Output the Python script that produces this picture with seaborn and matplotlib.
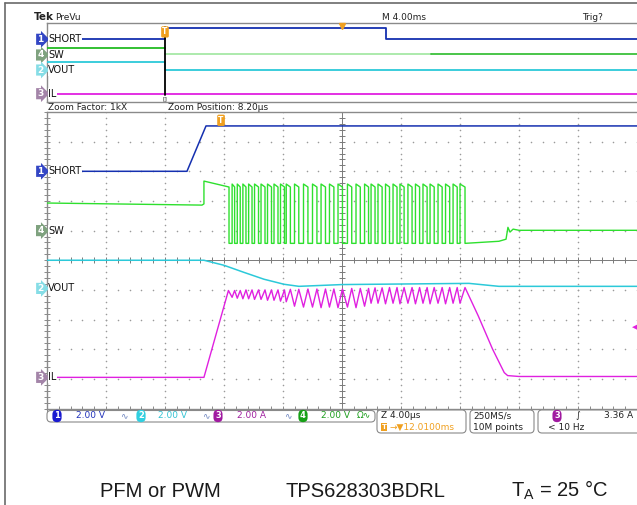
"""
Scope capture of the TPS628303BDRL output short: Tek PreVu overview on top,
1kX zoom window below, status bar and caption.

Usage:
    python plot.py
"""
import matplotlib
matplotlib.use("Agg")
import matplotlib.pyplot as plt
import numpy as np
import pandas as pd
import seaborn as sns
from matplotlib.patches import FancyBboxPatch

W, H = 637, 505

# ---- zoom window: time in us (4 us/div), values in divisions ----
SHORT_T = [-20.0, -10.51, -9.22, 20.0]
SHORT_V = [3.0, 3.0, 4.53, 4.53]

SW_PRE_T = [-20.0, -9.49, -9.36, -9.36, -7.66, -7.66]
SW_PRE_V = [1.93, 1.86, 1.90, 2.67, 2.47, 0.57]
SW_RISE = [-7.45, -7.10, -6.72, -6.33, -5.93, -5.49, -5.05, -4.61, -4.17, -3.78,
           -3.22, -2.61, -2.00, -1.42, -0.85, -0.27, 0.37, 0.95, 1.53, 1.97,
           2.44, 2.95, 3.46, 3.93, 4.47, 4.98, 5.49, 5.97, 6.51, 7.02, 7.53, 8.00]
SW_FALL = [-7.28, -6.90, -6.51, -6.10, -5.66, -5.22, -4.78, -4.34, -3.90, -3.50,
           -2.93, -2.31, -1.70, -1.12, -0.55, 0.03, 0.66, 1.24, 1.80, 2.24,
           2.72, 3.22, 3.73, 4.21, 4.75, 5.26, 5.77, 6.25, 6.79, 7.30, 7.81, 8.34]
SW_HIGH = 2.52
SW_LOW = 0.57
SW_POST_T = [10.64, 11.12, 11.25, 11.39, 11.60, 12.0, 20.0]
SW_POST_V = [0.64, 0.71, 1.11, 0.95, 1.05, 1.01, 1.01]

VOUT_T = [-20.0, -9.36, -8.0, -6.64, -5.29, -3.93, -2.92, 0.0, 8.61, 10.64, 20.0]
VOUT_V = [0.0, 0.0, -0.17, -0.41, -0.64, -0.81, -0.88, -0.82, -0.78, -0.88, -0.88]

IL_PRE_T = [-20.0, -9.36, -7.70]
IL_PRE_V = [-3.95, -3.95, -1.02]
IL_TROUGH = [-1.25, -1.28, -1.30, -1.30, -1.32, -1.32, -1.35, -1.35, -1.38, -1.40,
             -1.55, -1.58, -1.58, -1.60, -1.58, -1.60, -1.58, -1.60, -1.55, -1.45,
             -1.45, -1.47, -1.45, -1.47, -1.45, -1.47, -1.45, -1.47, -1.45, -1.47,
             -1.45, -1.45]
IL_PEAK = [-1.02, -1.02, -1.00, -1.00, -1.00, -1.00, -1.00, -1.00, -1.00, -0.98,
           -0.98, -0.97, -0.97, -0.97, -0.97, -0.97, -0.95, -0.95, -0.95, -0.93,
           -0.93, -0.92, -0.92, -0.92, -0.92, -0.92, -0.92, -0.92, -0.92, -0.92,
           -0.92, -0.92]
IL_POST_T = [9.24, 10.21, 11.0, 11.23, 12.0, 20.0]
IL_POST_V = [-1.88, -3.00, -3.79, -3.89, -3.92, -3.92]

# ---- PreVu overview: time in ms (4 ms/div), values in divisions ----
PV_SHORT_T = [-8.0, 0.0, 0.0, 15.0, 15.0, 32.0]
PV_SHORT_V = [2.96, 2.96, 4.44, 4.44, 2.99, 2.99]
PV_SW_PRE_T = [-8.0, 0.0]
PV_SW_PRE_V = [1.89, 1.89]
PV_SW_POST_T = [0.0, 18.0, 32.0]
PV_SW_POST_V = [1.08, 1.08, 1.08]
PV_VOUT_T = [-8.0, 0.0, 0.0, 32.0]
PV_VOUT_V = [0.03, 0.03, -0.96, -0.96]
PV_IL_T = [-8.0, 32.0]
PV_IL_V = [-3.98, -3.98]

# channel labels: (tag, name, ground level in div, trace colour, tag colour)
CHANNELS = [
    ("1", "SHORT", 3.0, "#1530b0", "#3346c4"),
    ("4", "SW", 1.0, "#2ee02e", "#7fa27f"),
    ("2", "VOUT", -0.95, "#2cc9d9", "#86dde6"),
    ("3", "IL", -3.95, "#e020e0", "#a384a8"),
]
PV_LEVELS = [2.96, 0.96, -0.96, -3.98]

CAPTIONS = ["PFM or PWM", "TPS628303BDRL", r"T$_\mathregular{A}$ = 25 °C"]

ORANGE = "#f0a020"
GRID = "#9a9a9a"
FONT = 6.5


def build_sw():
    t, v = list(SW_PRE_T), list(SW_PRE_V)
    for r, f in zip(SW_RISE, SW_FALL):
        t += [r, r, f, f]
        v += [SW_LOW, SW_HIGH + 0.05, SW_HIGH - 0.05, SW_LOW]
    t += SW_POST_T
    v += SW_POST_V
    return pd.DataFrame({"t": t, "v": v})


def build_il():
    t, v = list(IL_PRE_T), list(IL_PRE_V)
    for r, f, lo, hi in zip(SW_RISE, SW_FALL, IL_TROUGH, IL_PEAK):
        t += [r, f]
        v += [lo, hi]
    t += IL_POST_T
    v += IL_POST_V
    return pd.DataFrame({"t": t, "v": v})


def trace(ax, t, v, color, lw=1.1, z=3):
    df = pd.DataFrame({"t": t, "v": v}) if not isinstance(t, pd.DataFrame) else t
    sns.lineplot(data=df, x="t", y="v", ax=ax, color=color, lw=lw,
                 sort=False, estimator=None, legend=False, zorder=z)


def scope_frame(ax, xlim):
    ax.set_xlim(*xlim)
    ax.set_ylim(-5, 5)
    ax.set_xticks([])
    ax.set_yticks([])
    ax.set_xlabel("")
    ax.set_ylabel("")
    for side in ["left", "top", "bottom"]:
        ax.spines[side].set_color("#8a8a8a")
        ax.spines[side].set_linewidth(1.0)
    ax.spines["right"].set_visible(False)


def channel_labels(ax, levels):
    ytr = ax.get_yaxis_transform()
    for (tag, name, _, _, tagcol), lvl in zip(CHANNELS, levels):
        ax.text(-0.006, lvl, tag, transform=ytr, ha="right", va="center",
                color="white", fontsize=FONT, fontweight="bold", clip_on=False,
                bbox=dict(boxstyle="rarrow,pad=0.12", fc=tagcol, ec="none"))
        ax.text(0.002, lvl, name, transform=ytr, ha="left", va="center",
                color="#111111", fontsize=FONT + 0.5, zorder=6,
                bbox=dict(boxstyle="square,pad=0.05", fc="white", ec="none"))


sns.set_theme(style="white")
plt.rcParams["font.family"] = ["DejaVu Sans"]

fig = plt.figure(figsize=(W / 100, H / 100), dpi=100)
ax = fig.add_axes([47 / W, 1 - 408.5 / H, 590 / W, 296.5 / H])
pv = fig.add_axes([47 / W, 1 - 101.7 / H, 590 / W, 78.4 / H])

# ---- zoom window grid ----
scope_frame(ax, (-20, 20))
sub_y = np.arange(-5, 5.001, 0.2)
sub_x = np.arange(-20, 20.001, 0.8)
for gx in [-16, -12, -8, -4, 4, 8, 12, 16]:
    ax.scatter(np.full_like(sub_y, gx), sub_y, s=1.3, color=GRID, lw=0, zorder=1)
for gy in [-4, -3, -2, -1, 1, 2, 3, 4]:
    ax.scatter(sub_x, np.full_like(sub_x, gy), s=1.3, color=GRID, lw=0, zorder=1)
ax.axhline(0, color="#7a7a7a", lw=0.7, zorder=1)
ax.axvline(0, color="#7a7a7a", lw=0.7, zorder=1)
ax.plot(sub_x, np.zeros_like(sub_x), ls="none", marker="|", ms=4, mew=0.7,
        color="#7a7a7a", zorder=1)
ax.plot(np.zeros_like(sub_y), sub_y, ls="none", marker="_", ms=4, mew=0.7,
        color="#7a7a7a", zorder=1)
ax.plot(np.full_like(sub_y, -20), sub_y, ls="none", marker="_", ms=4, mew=0.7,
        color="#8a8a8a", zorder=1, clip_on=False)
ax.plot(sub_x, np.full_like(sub_x, -5), ls="none", marker="|", ms=4, mew=0.7,
        color="#8a8a8a", zorder=1, clip_on=False)

# ---- zoom window traces ----
trace(ax, VOUT_T, VOUT_V, CHANNELS[2][3])
trace(ax, build_il(), None, CHANNELS[3][3], lw=1.0)
trace(ax, build_sw(), None, CHANNELS[1][3], lw=1.0)
trace(ax, SHORT_T, SHORT_V, CHANNELS[0][3])
channel_labels(ax, [c[2] for c in CHANNELS])

ax.text(-8.2, 4.72, "T", ha="center", va="center", color="white", fontsize=5.5,
        fontweight="bold", zorder=6,
        bbox=dict(boxstyle="round,pad=0.15,rounding_size=0.2", fc=ORANGE, ec="none"))
ax.text(20, -2.27, "\u25c0", ha="right", va="center", color=CHANNELS[3][3],
        fontsize=5, zorder=6)

# ---- PreVu overview ----
scope_frame(pv, (-8, 32))
trace(pv, PV_IL_T, PV_IL_V, CHANNELS[3][3], lw=1.3)
trace(pv, PV_VOUT_T, PV_VOUT_V, CHANNELS[2][3], lw=1.3)
trace(pv, PV_SW_PRE_T, PV_SW_PRE_V, "#22bb22", lw=1.3)
trace(pv, PV_SW_POST_T[:2], PV_SW_POST_V[:2], "#a6e8a6", lw=1.3)
trace(pv, PV_SW_POST_T[1:], PV_SW_POST_V[1:], "#3cc03c", lw=1.3)
trace(pv, PV_SHORT_T, PV_SHORT_V, CHANNELS[0][3], lw=1.3)
pv.plot([0, 0], [4.5, -4.15], color="black", lw=1.3, zorder=5)
pv.text(0, 3.9, "T", ha="center", va="center", color="white", fontsize=5.5,
        fontweight="bold", zorder=6,
        bbox=dict(boxstyle="round,pad=0.15,rounding_size=0.2", fc=ORANGE, ec="none"))
pv.text(0, -4.6, "[]", ha="center", va="center", fontsize=4.5, color="#222222")
pv.plot([12], [4.7], marker="v", ms=4.5, color=ORANGE, ls="none", zorder=6,
        clip_on=False)
channel_labels(pv, PV_LEVELS)

# ---- overlay in pixel coordinates: frame, header, status bar, caption ----
ov = fig.add_axes([0, 0, 1, 1])
ov.set_xlim(0, W)
ov.set_ylim(H, 0)
ov.axis("off")
ov.plot([5, 5], [3, H], color="#6a6a6a", lw=1.2)
ov.plot([5, W], [3, 3], color="#6a6a6a", lw=1.2)

ov.text(34, 17, "Tek", fontsize=7.5, fontweight="bold", va="center", color="#222222")
ov.text(55, 17, "PreVu", fontsize=FONT, va="center", color="#222222")
ov.text(382, 17, "M 4.00ms", fontsize=FONT, va="center", color="#222222")
ov.text(582, 17, "Trig?", fontsize=FONT, va="center", color="#222222")
ov.text(48, 107, "Zoom Factor: 1kX", fontsize=FONT, va="center", color="#222222")
ov.text(168, 107, "Zoom Position: 8.20\u00b5s", fontsize=FONT, va="center",
        color="#222222")

for x0, y0, w, h in [(47, 410.5, 328, 11.5), (377, 410, 89, 23),
                     (470, 410, 64, 23), (538, 410, 110, 23)]:
    ov.add_patch(FancyBboxPatch((x0, y0), w, h,
                                boxstyle="round,pad=0,rounding_size=4",
                                fc="white", ec="#8a8a8a", lw=0.8))

y1, y2 = 416, 427
badges = [(57, "1", "#1a1ad0"), (141, "2", "#30cfe0"), (218, "3", "#a01aa0"),
          (303, "4", "#16a016"), (557, "3", "#a01aa0")]
for bx, num, bc in badges:
    ov.text(bx, y1, num, ha="center", va="center", color="white", fontsize=6,
            fontweight="bold",
            bbox=dict(boxstyle="round,pad=0.2,rounding_size=0.55", fc=bc, ec="none"))
for sx, txt, sc in [(76, "2.00 V", "#2233bb"), (158, "2.00 V", "#33c3d3"),
                    (237, "2.00 A", "#a020a0"), (321, "2.00 V", "#1f9f1f"),
                    (357, "\u03a9\u223f", "#1f9f1f")]:
    ov.text(sx, y1, txt, fontsize=FONT, va="center", color=sc)
for sx in [120, 202, 284]:
    ov.text(sx, y1, "\u223f", fontsize=FONT, va="center", color="#6f86c0")

ov.text(381, y1, "Z 4.00\u00b5s", fontsize=FONT, va="center", color="#222222")
ov.text(384, y2, "T", ha="center", va="center", color="white", fontsize=5,
        fontweight="bold",
        bbox=dict(boxstyle="square,pad=0.1", fc=ORANGE, ec="none"))
ov.text(389, y2, "\u2192\u25bc12.0100ms", fontsize=FONT, va="center", color=ORANGE)
ov.text(473, y1, "250MS/s", fontsize=FONT, va="center", color="#222222")
ov.text(473, y2, "10M points", fontsize=FONT, va="center", color="#222222")
ov.text(575, y1, "\u222b", fontsize=FONT, va="center", color="#222222")
ov.text(604, y1, "3.36 A", fontsize=FONT, va="center", color="#222222")
ov.text(548, y2, "< 10 Hz", fontsize=FONT, va="center", color="#222222")

for cx, cap in zip([160, 365, 560], CAPTIONS):
    ov.text(cx, 497, cap, ha="center", va="baseline", fontsize=14.5,
            family=["Liberation Sans", "DejaVu Sans"], color="#1a1a1a")

fig.savefig("out.png", dpi=100)
